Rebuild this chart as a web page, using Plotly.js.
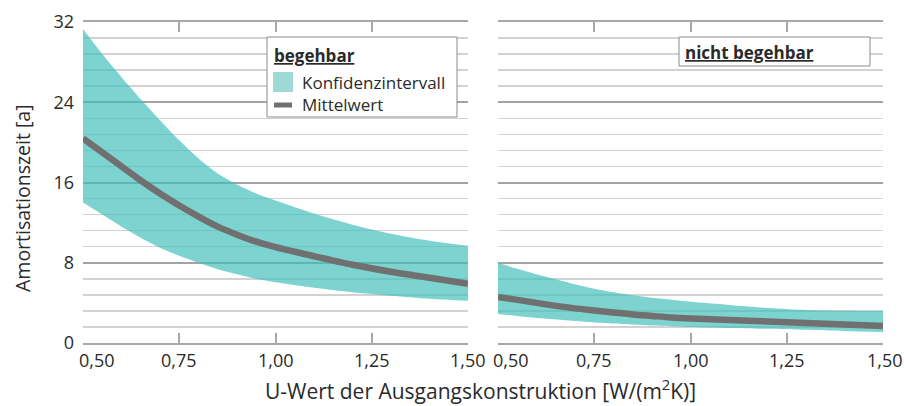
<!DOCTYPE html>
<html>
<head>
<meta charset="utf-8">
<script src="https://cdn.plot.ly/plotly-3.0.1.min.js"></script>
<style>html,body{margin:0;padding:0;background:#fff}#chart{width:906px;height:406px}</style>
</head>
<body>
<div id="chart"></div>
<script>
// ---- data ----
const uWert = [0.50, 0.55, 0.60, 0.65, 0.70, 0.75, 0.80, 0.85, 0.90, 0.95, 1.00, 1.10, 1.20, 1.30, 1.40, 1.50];
const begehbarMittel = [20.4, 19.0, 17.6, 16.2, 14.9, 13.7, 12.6, 11.6, 10.8, 10.1, 9.55, 8.65, 7.8, 7.1, 6.5, 5.9];
const begehbarOben   = [31.3, 28.8, 26.5, 24.3, 22.2, 20.2, 18.4, 16.9, 15.8, 14.9, 14.2, 12.9, 11.8, 10.9, 10.2, 9.7];
const begehbarUnten  = [14.0, 12.8, 11.6, 10.5, 9.5, 8.7, 8.0, 7.35, 6.85, 6.4, 6.05, 5.5, 5.05, 4.7, 4.4, 4.2];
const nichtMittel = [4.6, 4.3, 4.0, 3.7, 3.45, 3.25, 3.05, 2.85, 2.7, 2.55, 2.45, 2.3, 2.15, 2.0, 1.85, 1.7];
const nichtOben   = [8.0, 7.4, 6.85, 6.35, 5.85, 5.4, 5.05, 4.75, 4.5, 4.3, 4.1, 3.8, 3.5, 3.3, 3.22, 3.2];
const nichtUnten  = [2.9, 2.7, 2.5, 2.35, 2.2, 2.05, 1.95, 1.85, 1.75, 1.68, 1.6, 1.5, 1.42, 1.32, 1.2, 1.1];
const xTickVals = [0.50, 0.75, 1.00, 1.25, 1.50];
const xTickText = ['0,50', '0,75', '1,00', '1,25', '1,50'];
const yTickVals = [0, 8, 16, 24, 32];
const yTickText = ['0', '8', '16', '24', '32'];

// ---- layout helpers ----
const W = 906, H = 406, ML = 83, MR = 23, MT = 22, MB = 63;
const PW = W - ML - MR, PH = H - MT - MB;
const px = v => (v - ML) / PW;
const py = v => (H - MB - v) / PH;
const FONT = 'Open Sans, sans-serif';
const TXT = '#2a2a2a';
const FILL = 'rgba(64,190,186,0.68)';
const LINE = '#707070';
const AX = '#a8a8a8';

function band(xa, lo, hi, mid) {
  return [
    {x: uWert, y: lo, xaxis: xa, yaxis: 'y', mode: 'lines', line: {width: 0, shape: 'spline', smoothing: 0.8}, hoverinfo: 'skip', showlegend: false},
    {x: uWert, y: hi, xaxis: xa, yaxis: 'y', mode: 'lines', line: {width: 0, shape: 'spline', smoothing: 0.8}, fill: 'tonexty', fillcolor: FILL, hoverinfo: 'skip', showlegend: false},
    {x: uWert, y: mid, xaxis: xa, yaxis: 'y', mode: 'lines', line: {width: 6.5, color: LINE, shape: 'spline', smoothing: 0.8}, showlegend: false}
  ];
}
const data = [].concat(
  band('x', begehbarUnten, begehbarOben, begehbarMittel),
  band('x2', nichtUnten, nichtOben, nichtMittel)
);

const xAxisBase = {
  range: [0.5, 1.5], showgrid: false, zeroline: false,
  showline: true, linecolor: AX, linewidth: 2, mirror: 'ticks',
  ticks: 'inside', ticklen: 10, tickwidth: 2, tickcolor: AX,
  tickvals: xTickVals, showticklabels: false, anchor: 'y'
};

const annotations = [];
function xLabels(xref, shifts) {
  xTickVals.forEach((v, i) => annotations.push({
    x: v, xref: xref, y: py(360), yref: 'paper', text: xTickText[i], showarrow: false,
    xanchor: 'center', yanchor: 'middle', xshift: shifts[i], font: {family: FONT, size: 18, color: TXT}
  }));
}
xLabels('x', [14, 0, 0, 0, 0]);
xLabels('x2', [13, 0, 0, 0, 2]);

annotations.push({
  x: px(480), xref: 'paper', y: py(389), yref: 'paper', showarrow: false,
  text: 'U-Wert der Ausgangskonstruktion [W/(m<sup>2</sup>K)]', xanchor: 'center', yanchor: 'middle',
  font: {family: FONT, size: 21, color: TXT}
});
annotations.push({
  x: px(22), xref: 'paper', y: py(198), yref: 'paper', showarrow: false, textangle: -90,
  text: 'Amortisationszeit [a]', xanchor: 'center', yanchor: 'middle',
  font: {family: FONT, size: 19.5, color: TXT}
});
// legend texts
annotations.push({x: px(272), xref: 'paper', y: py(55), yref: 'paper', showarrow: false, xanchor: 'left', yanchor: 'middle',
  text: '<b><u>begehbar</u></b>', font: {family: FONT, size: 17, color: TXT}});
annotations.push({x: px(300), xref: 'paper', y: py(82), yref: 'paper', showarrow: false, xanchor: 'left', yanchor: 'middle',
  text: 'Konfidenzintervall', font: {family: FONT, size: 17, color: TXT}});
annotations.push({x: px(300), xref: 'paper', y: py(104), yref: 'paper', showarrow: false, xanchor: 'left', yanchor: 'middle',
  text: 'Mittelwert', font: {family: FONT, size: 17, color: TXT}});
annotations.push({x: px(683), xref: 'paper', y: py(52), yref: 'paper', showarrow: false, xanchor: 'left', yanchor: 'middle',
  text: '<b><u>nicht begehbar</u></b>', font: {family: FONT, size: 17, color: TXT}});

const shapes = [
  {type: 'rect', xref: 'paper', yref: 'paper', x0: px(267), x1: px(457), y0: py(117), y1: py(37),
   fillcolor: '#ffffff', line: {color: '#8a8a8a', width: 1}, layer: 'above'},
  {type: 'rect', xref: 'paper', yref: 'paper', x0: px(273), x1: px(293), y0: py(92), y1: py(72),
   fillcolor: '#9fd9d6', line: {width: 0}, layer: 'above'},
  {type: 'line', xref: 'paper', yref: 'paper', x0: px(274), x1: px(292), y0: py(105), y1: py(105),
   line: {color: LINE, width: 5, cap: 'round'}, layer: 'above'},
  {type: 'rect', xref: 'paper', yref: 'paper', x0: px(679), x1: px(870), y0: py(66), y1: py(37),
   fillcolor: '#ffffff', line: {color: '#8a8a8a', width: 1}, layer: 'above'}
];

const layout = {
  width: W, height: H, margin: {l: ML, r: MR, t: MT, b: MB},
  paper_bgcolor: '#fff', plot_bgcolor: '#fff', showlegend: false,
  font: {family: FONT, color: TXT},
  xaxis: Object.assign({}, xAxisBase, {domain: [0, px(468)]}),
  xaxis2: Object.assign({}, xAxisBase, {domain: [px(498), 1]}),
  yaxis: {
    range: [0, 32], anchor: 'x', showline: false, zeroline: false,
    tickvals: yTickVals, ticktext: yTickText, ticks: '', ticklabelstandoff: 8,
    tickfont: {family: FONT, size: 18, color: TXT},
    showgrid: true, gridcolor: '#a3a3a3', gridwidth: 2,
    minor: {dtick: 1.6, tick0: 0, showgrid: true, gridcolor: '#d2d2d2', gridwidth: 1.5, ticks: ''}
  },
  annotations: annotations,
  shapes: shapes
};

Plotly.newPlot('chart', data, layout, {staticPlot: true, displayModeBar: false});
</script>
</body>
</html>
